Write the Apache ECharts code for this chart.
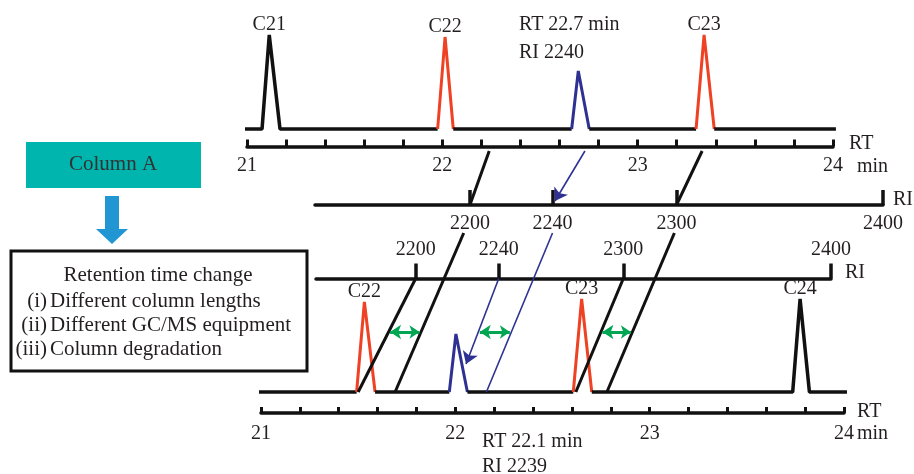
<!DOCTYPE html>
<html><head><meta charset="utf-8">
<script src="https://cdn.jsdelivr.net/npm/echarts@6/dist/echarts.min.js"></script>
<style>html,body{margin:0;padding:0;background:#fff}#c{width:914px;height:474px}</style>
</head><body><div id="c"></div>
<script>
// ---------------- data ----------------
const rtLabels = [21, 22, 23, 24];
const riLabels = [2200, 2240, 2300, 2400];

// Column A chromatogram (top)
const topPeakNames  = ['C21', 'C22', 'target', 'C23'];
const topPeakKinds  = ['alkane', 'bracket', 'target', 'bracket'];
const topPeakStart  = [21.077, 21.976, 22.662, 23.299];
const topPeakApex   = [21.114, 22.014, 22.696, 23.340];
const topPeakEnd    = [21.169, 22.056, 22.752, 23.392];
const topPeakHeight = [94, 92, 58, 94];
const topTraceRange = [20.985, 24.015];
const topTargetRT = '22.7';
const topTargetRI = '2240';

// Column with changed retention time (bottom)
const botPeakNames  = ['C22', 'target', 'C23', 'C24'];
const botPeakKinds  = ['bracket', 'target', 'bracket', 'alkane'];
const botPeakStart  = [21.492, 21.969, 22.607, 23.736];
const botPeakApex   = [21.532, 22.003, 22.650, 23.774];
const botPeakEnd    = [21.587, 22.062, 22.702, 23.822];
const botPeakHeight = [90, 58, 93, 93];
const botTraceRange = [20.985, 24.067];
const botTargetRT = '22.1';
const botTargetRI = '2239';

// connectors
const linkKinds  = ['alkane', 'target', 'alkane'];
const linkTopRT  = [22.24, 22.73, 23.33];   // top RT axis  -> middle RI axis
const linkMidRI  = [2200, 2240, 2300];
const dropMidRI  = [2197, 2240, 2299];      // middle RI axis -> bottom chromatogram
const dropBotRT  = [21.69, 22.16, 22.78];
const shiftBotRI = [2200, 2240, 2300];      // bottom RI axis -> bottom chromatogram
const shiftBotRT = [21.50, 22.00, 22.62];

// ---------------- layout / style ----------------
const FONT = '"Liberation Serif", "Times New Roman", serif';
const INK = '#231f20';
const BLACK = '#111111';
const RED = '#ef4123';
const INDIGO = '#2e3192';
const GREEN = '#00a651';
const Y = { topBase: 129, topAxis: 146.5, topLinkStart: 151, midAxis: 205, dropStart: 233,
            botRiAxis: 278.5, green: 332, arrowEnd: 364, botBase: 392, botAxis: 413 };

const chart = echarts.init(document.getElementById('c'), null, {renderer: 'canvas'});

function kindColor(k) { return k === 'bracket' ? RED : (k === 'target' ? INDIGO : BLACK); }

function traceSeries(g, kinds, starts, apexes, ends, heights, range) {
  const out = [];
  const mk = (data, color, width) => ({
    type: 'line', xAxisIndex: g, yAxisIndex: g, data: data, symbol: 'none', clip: false,
    silent: true, animation: false, z: 3,
    lineStyle: {color: color, width: width, join: 'bevel', cap: 'butt'}
  });
  let seg = [[range[0], 0]];
  for (let i = 0; i < starts.length; i++) {
    if (kinds[i] === 'alkane') {
      seg.push([starts[i], 0], [apexes[i], heights[i]], [ends[i], 0]);
    } else {
      seg.push([starts[i], 0]);
      out.push(mk(seg, BLACK, 3.5));
      out.push(mk([[starts[i], 0], [apexes[i], heights[i]], [ends[i], 0]], kindColor(kinds[i]), 3));
      seg = [[ends[i], 0]];
    }
  }
  seg.push([range[1], 0]);
  out.push(mk(seg, BLACK, 3.5));
  return out;
}

function hiddenY(g, max, inverse) {
  return {type: 'value', gridIndex: g, min: 0, max: max, inverse: !!inverse, show: false,
          axisLine: {show: false}, splitLine: {show: false}};
}

const labelStyle = {fontFamily: FONT, fontSize: 20, color: INK, formatter: v => String(v)};

const option = {
  animation: false,
  backgroundColor: '#ffffff',
  grid: [
    {left: 247, top: Y.topBase - 100, width: 586, height: 100, outerBoundsMode: 'none'},
    {left: 315, top: Y.midAxis - 50, width: 568, height: 50, outerBoundsMode: 'none'},
    {left: 316, top: Y.botRiAxis, width: 515, height: 50, outerBoundsMode: 'none'},
    {left: 261, top: Y.botBase - 100, width: 583, height: 100, outerBoundsMode: 'none'},
    {left: 0, top: 0, width: 914, height: 474, outerBoundsMode: 'none'}
  ],
  xAxis: [
    {type: 'value', gridIndex: 0, min: 21, max: 24, interval: 0.2, position: 'bottom',
     offset: Y.topAxis - Y.topBase,
     axisLine: {show: true, onZero: false, lineStyle: {color: BLACK, width: 3.5}},
     axisTick: {show: true, inside: true, length: 7, lineStyle: {color: BLACK, width: 3}},
     axisLabel: Object.assign({show: true, customValues: rtLabels, margin: 9}, labelStyle),
     splitLine: {show: false}},
    {type: 'value', gridIndex: 1, min: 2125, max: 2400, position: 'bottom',
     axisLine: {show: true, onZero: false, lineStyle: {color: BLACK, width: 3.5}},
     axisTick: {show: true, inside: true, length: 15, customValues: riLabels, lineStyle: {color: BLACK, width: 3.5}},
     axisLabel: Object.assign({show: true, customValues: riLabels, margin: 9}, labelStyle),
     splitLine: {show: false}},
    {type: 'value', gridIndex: 2, min: 2152, max: 2400, position: 'top',
     axisLine: {show: true, onZero: false, lineStyle: {color: BLACK, width: 3.5}},
     axisTick: {show: true, inside: false, length: 15, customValues: riLabels, lineStyle: {color: BLACK, width: 3.5}},
     axisLabel: Object.assign({show: true, customValues: riLabels, margin: 19}, labelStyle),
     splitLine: {show: false}},
    {type: 'value', gridIndex: 3, min: 21, max: 24, interval: 0.2, position: 'bottom',
     offset: Y.botAxis - Y.botBase,
     axisLine: {show: true, onZero: false, lineStyle: {color: BLACK, width: 3.5}},
     axisTick: {show: true, inside: true, length: 6, lineStyle: {color: BLACK, width: 3}},
     axisLabel: Object.assign({show: true, customValues: rtLabels, margin: 11}, labelStyle),
     splitLine: {show: false}},
    {type: 'value', gridIndex: 4, min: 0, max: 914, show: false, splitLine: {show: false}}
  ],
  yAxis: [hiddenY(0, 100), hiddenY(1, 100), hiddenY(2, 100), hiddenY(3, 100), hiddenY(4, 474, true)],
  series: [].concat(
    traceSeries(0, topPeakKinds, topPeakStart, topPeakApex, topPeakEnd, topPeakHeight, topTraceRange),
    traceSeries(3, botPeakKinds, botPeakStart, botPeakApex, botPeakEnd, botPeakHeight, botTraceRange)
  ),
  graphic: []
};

function txt(t, x, y, size, align, color) {
  return {type: 'text', silent: true, z: 10,
          style: {text: t, x: x, y: y, font: size + 'px ' + FONT, fill: color || INK,
                  align: align || 'left', verticalAlign: 'middle'}};
}

option.graphic = [
  // left-side schematic
  {type: 'rect', shape: {x: 26, y: 142, width: 175, height: 46}, style: {fill: '#00b5ad'}, silent: true},
  txt('Column A', 113, 164, 21, 'center', '#333333'),
  {type: 'polygon', shape: {points: [[105, 196], [119, 196], [119, 229], [128, 229], [112, 244], [96, 229], [105, 229]]},
   style: {fill: '#2196d3'}, silent: true},
  {type: 'rect', shape: {x: 11, y: 251, width: 296, height: 120}, style: {fill: '#fff', stroke: BLACK, lineWidth: 3}, silent: true},
  txt('Retention time change', 158, 275, 21, 'center'),
  txt('(i)', 47, 301, 21, 'right'), txt('Different column lengths', 50, 301, 21, 'left'),
  txt('(ii)', 47, 325, 21, 'right'), txt('Different GC/MS equipment', 50, 325, 21, 'left'),
  txt('(iii)', 47, 349, 21, 'right'), txt('Column degradation', 50, 349, 21, 'left'),
  // axis names
  txt('RT', 849, 144, 20), txt('min', 857, 167, 20),
  txt('RI', 893, 200, 20),
  txt('RI', 845, 273, 20),
  txt('RT', 857, 412, 20), txt('min', 857, 434, 20),
  // target annotations
  txt('RT ' + topTargetRT + ' min', 519, 25, 20), txt('RI ' + topTargetRI, 519, 53, 20),
  txt('RT ' + botTargetRT + ' min', 482, 442, 20), txt('RI ' + botTargetRI, 482, 467, 20)
];

chart.setOption(option);

// ---------- positions computed through the axes ----------
const px = (axis, v) => chart.convertToPixel({xAxisIndex: axis}, v);
const py = (axis, v) => chart.convertToPixel({yAxisIndex: axis}, v);
const at = (p1, p2, y) => p1[0] + (p2[0] - p1[0]) * (y - p1[1]) / (p2[1] - p1[1]);

// peak name labels
function peakLabels(g, names, kinds, apexes, heights) {
  for (let i = 0; i < names.length; i++) {
    if (kinds[i] === 'target') continue;
    option.graphic.push(txt(names[i], px(g, apexes[i]), py(g, heights[i]) - 10, 20, 'center'));
  }
}
peakLabels(0, topPeakNames, topPeakKinds, topPeakApex, topPeakHeight);
peakLabels(3, botPeakNames, botPeakKinds, botPeakApex, botPeakHeight);

const lineData = [];
const arrowData = [];
const greenData = [];
for (let i = 0; i < linkKinds.length; i++) {
  const isT = linkKinds[i] === 'target';
  // top RT -> middle RI
  const a1 = [px(0, linkTopRT[i]), Y.topLinkStart];
  const a2 = [px(1, linkMidRI[i]), Y.midAxis];
  if (isT) {
    arrowData.push({coords: [a1, [at(a1, a2, Y.midAxis - 4), Y.midAxis - 4]]});
  } else {
    lineData.push({coords: [a1, a2]});
  }
  // middle RI -> bottom RT
  const b1 = [px(1, dropMidRI[i]), Y.dropStart];
  const b2 = [px(3, dropBotRT[i]), Y.botBase];
  if (isT) lineData.push({coords: [b1, b2], lineStyle: {color: INDIGO, width: 1.6}});
  else lineData.push({coords: [b1, b2]});
  // bottom RI -> bottom RT
  const c1 = [px(2, shiftBotRI[i]), Y.botRiAxis];
  const c2 = [px(3, shiftBotRT[i]), Y.botBase];
  if (isT) arrowData.push({coords: [c1, [at(c1, c2, Y.arrowEnd), Y.arrowEnd]]});
  else lineData.push({coords: [c1, c2]});
  // shift double arrow
  const gx1 = at(c1, c2, Y.green), gx2 = at(b1, b2, Y.green);
  greenData.push({coords: [[gx1 + 1.5, Y.green], [gx2 - 1.5, Y.green]]});
}

option.series.push(
  {type: 'lines', coordinateSystem: 'cartesian2d', xAxisIndex: 4, yAxisIndex: 4, data: lineData,
   symbol: 'none', silent: true, z: 5, lineStyle: {color: BLACK, width: 3, opacity: 1, curveness: 0}},
  {type: 'lines', coordinateSystem: 'cartesian2d', xAxisIndex: 4, yAxisIndex: 4, data: arrowData,
   symbol: ['none', 'arrow'], symbolSize: [8, 12], silent: true, z: 5,
   lineStyle: {color: INDIGO, width: 1.6, opacity: 1, curveness: 0}},
  {type: 'lines', coordinateSystem: 'cartesian2d', xAxisIndex: 4, yAxisIndex: 4, data: greenData,
   symbol: ['arrow', 'arrow'], symbolSize: [11, 10], silent: true, z: 5,
   lineStyle: {color: GREEN, width: 3, opacity: 1, curveness: 0}}
);
chart.setOption(option);
</script></body></html>
